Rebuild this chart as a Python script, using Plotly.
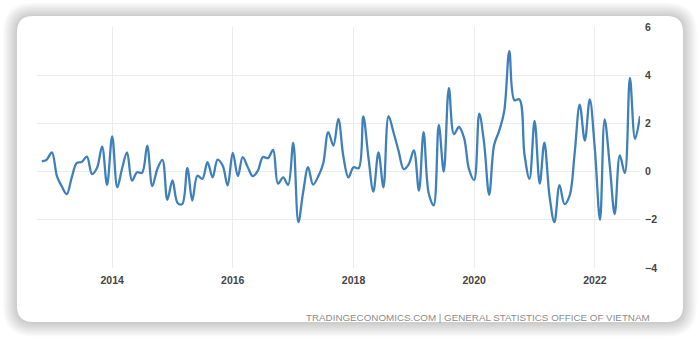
import pandas as pd
import plotly.graph_objects as go

# Monthly change, Nov 2012 - Oct 2022
start_month = "2012-11-01"
values = [
    0.42, 0.5, 0.8, -0.2, -0.6, -0.93, -0.25, 0.36, 0.4, 0.62, -0.1, 0.15,
    1.04, -0.55, 1.46, -0.65, 0.1, 0.8, -0.37, -0.03, -0.05, 1.08, -0.6, 0.1,
    0.49, -1.17, -0.37, -1.3, -1.35, 0.14, -1.2, -0.17, -0.3, 0.39, -0.24, 0.5,
    0.25, -0.58, 0.78, -0.19, 0.6, 0.18, -0.19, 0.04, 0.6, 0.56, 0.9, -0.5,
    -0.24, -0.55, 1.19, -2.1, -0.9, 0.18, -0.54, -0.2, 0.32, 1.64, 1.08, 2.19,
    0.6, -0.24, 0.18, 0.14, 2.29, 0.6, -0.83, 0.8, -0.65, 2.3, 1.6, 0.85,
    0.1, 0.3, 0.875, -0.79, 1.64, -0.9, -1.4, 1.94, 0.0, 3.47, 1.55, 1.85,
    1.4, 0.1, -0.35, 2.4, 1.2, -0.96, 1.1, 1.7, 2.5, 5.0, 2.96, 3.0,
    0.7, -0.3, 2.1, -0.5, 1.2, -1.0, -2.1, -0.56, -1.35, -1.0, 0.8, 2.78,
    1.29, 3.0, 0.9, -2.0, 2.17, 0.25, -1.76, 0.67, -0.06, 3.89, 1.36, 2.3,
]
dates = pd.date_range(start_month, periods=len(values), freq="MS")

y_ticks = [-4, -2, 0, 2, 4, 6]
x_ticks = ["2014-01-01", "2016-01-01", "2018-01-01", "2020-01-01", "2022-01-01"]
x_tick_text = ["2014", "2016", "2018", "2020", "2022"]
source_text = "TRADINGECONOMICS.COM | GENERAL STATISTICS OFFICE OF VIETNAM"

W, H = 700, 339
ML, MR, MT, MB = 37, 60, 27, 71
PW, PH = W - ML - MR, H - MT - MB


def px(x):
    return (x - ML) / PW


def py(y):
    return (H - MB - y) / PH


def rounded_rect(x0, y0, x1, y1, r):
    # rounded rectangle in pixel space, converted to paper coordinates
    pts = [
        ("M", [(x0 + r, y0)]),
        ("L", [(x1 - r, y0)]),
        ("Q", [(x1, y0), (x1, y0 + r)]),
        ("L", [(x1, y1 - r)]),
        ("Q", [(x1, y1), (x1 - r, y1)]),
        ("L", [(x0 + r, y1)]),
        ("Q", [(x0, y1), (x0, y1 - r)]),
        ("L", [(x0, y0 + r)]),
        ("Q", [(x0, y0), (x0 + r, y0)]),
    ]
    s = ""
    for cmd, ps in pts:
        s += cmd + " " + " ".join(f"{px(a):.5f},{py(b):.5f}" for a, b in ps) + " "
    return s + "Z"


shapes = []
cx0, cy0, cx1, cy1 = 17, 16, 683, 322
for k in range(10, 0, -1):
    e = k * 1.4
    shapes.append(dict(
        type="path", xref="paper", yref="paper", layer="below",
        path=rounded_rect(cx0 - e, cy0 - e + 0.5, cx1 + e, cy1 + e + 0.5, 16 + e),
        fillcolor="rgba(0,0,0,0.018)", line=dict(width=0),
    ))
shapes.append(dict(
    type="path", xref="paper", yref="paper", layer="below",
    path=rounded_rect(cx0, cy0, cx1, cy1, 16),
    fillcolor="white", line=dict(width=0),
))

fig = go.Figure()
fig.add_trace(go.Scatter(
    x=dates, y=values, mode="lines",
    line=dict(color="#3f80ba", width=2.3, shape="spline", smoothing=1.0),
    hoverinfo="skip",
))

tick_font = dict(family="Liberation Sans, Arial, sans-serif", size=10.5, color="#444444", weight="bold")

fig.update_layout(
    width=W, height=H,
    margin=dict(l=ML, r=MR, t=MT, b=MB, pad=0),
    paper_bgcolor="white",
    plot_bgcolor="rgba(0,0,0,0)",
    showlegend=False,
    shapes=shapes,
    xaxis=dict(
        range=["2012-10-03", "2022-10-01"],
        tickvals=x_ticks, ticktext=x_tick_text,
        showgrid=True, gridcolor="#ebebeb", gridwidth=1,
        zeroline=False, showline=False, ticks="",
        tickfont=tick_font,
        ticklabelstandoff=4,
    ),
    yaxis=dict(
        range=[-4, 6], side="right",
        tickvals=y_ticks,
        showgrid=True, gridcolor="#ebebeb", gridwidth=1,
        zeroline=False, showline=False, ticks="",
        tickfont=tick_font,
        ticklabelstandoff=4,
    ),
    annotations=[dict(
        text=source_text, xref="paper", yref="paper",
        x=px(652), y=py(317), xanchor="right", yanchor="middle",
        showarrow=False,
        font=dict(family="Liberation Sans, Arial, sans-serif", size=9.8, color="#8c8c8c"),
    )],
)

fig.write_html("out.html")
